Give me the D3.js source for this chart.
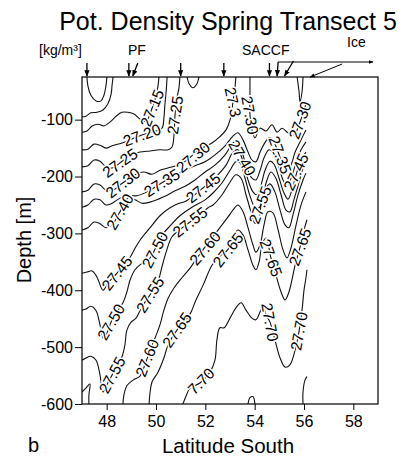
<!DOCTYPE html>
<html>
<head>
<meta charset="utf-8">
<script src="https://cdn.jsdelivr.net/npm/d3@7"></script>
<style>
  html, body { margin: 0; padding: 0; background: #fff; }
  svg { display: block; font-family: "Liberation Sans", Arial, Helvetica, sans-serif; }
</style>
</head>
<body>
<svg id="chart" width="405" height="464"></svg>
<script>
// ---- Axis ticks ----
const latTicks = [48, 50, 52, 54, 56, 58];
const depthTicks = [-100, -200, -300, -400, -500, -600];
const depthTickLabels = ["-100", "-200", "-300", "-400", "-500", "-600"];

// ---- Isopycnals: [latitude °S, depth m] ----
const iso2705 = [[47.20,-25],[47.24,-41],[47.36,-57],[47.57,-67],[47.77,-67],[47.89,-57],[47.97,-41],[48.01,-25]];
const iso2710 = [[47.00,-95],[47.16,-94],[47.36,-88],[47.61,-87],[47.85,-83],[48.05,-72],[48.18,-55],[48.22,-39],[48.26,-25]];
const iso2715 = [[47.00,-122],[47.20,-120],[47.41,-111],[47.65,-108],[47.89,-111],[48.14,-104],[48.38,-94],[48.62,-87],[48.86,-87],[49.11,-90],[49.35,-99],[49.59,-103],[49.84,-80],[50.00,-59],[50.08,-41],[50.12,-25]];
const iso2720 = [[47.00,-153],[47.24,-152],[47.49,-143],[47.73,-145],[47.97,-150],[48.22,-146],[48.62,-141],[49.03,-134],[49.43,-127],[49.84,-122],[50.24,-115],[50.32,-97],[50.36,-74],[50.41,-51],[50.45,-25]];
const iso2725 = [[47.00,-183],[47.24,-181],[47.49,-171],[47.73,-173],[47.97,-183],[48.22,-185],[48.54,-176],[48.82,-167],[49.07,-160],[49.35,-157],[49.76,-155],[50.16,-153],[50.49,-153],[50.65,-148],[50.73,-127],[50.77,-92],[50.85,-62],[50.93,-44],[50.97,-25]];
const iso2725b = [[51.26,-25],[51.34,-37],[51.50,-44],[51.66,-37],[51.74,-25]];
const iso2725c = [[55.72,-25],[55.80,-51],[55.84,-69],[55.92,-51],[55.96,-25]];
const iso2730 = [[47.00,-227],[47.24,-224],[47.49,-213],[47.73,-215],[47.97,-224],[48.22,-225],[48.66,-211],[49.19,-196],[49.51,-192],[49.84,-196],[50.16,-189],[50.49,-185],[50.81,-181],[51.26,-171],[51.62,-157],[51.95,-148],[52.27,-141],[52.59,-130],[52.84,-118],[53.00,-101],[53.12,-69],[53.20,-44],[53.24,-25]];
const iso2730b = [[53.81,-25],[53.81,-51],[53.81,-92],[53.89,-118],[54.01,-132],[54.22,-115],[54.46,-120],[54.70,-109],[54.91,-122],[55.11,-115],[55.35,-123],[55.59,-127],[55.84,-104],[56.00,-83],[56.08,-72]];
const iso2735 = [[47.00,-254],[47.24,-250],[47.49,-240],[47.73,-241],[47.97,-250],[48.22,-247],[48.54,-238],[48.86,-233],[49.19,-234],[49.64,-227],[50.24,-211],[50.81,-197],[51.18,-189],[51.58,-181],[51.99,-174],[52.39,-162],[52.80,-146],[53.12,-129],[53.32,-123],[53.53,-136],[53.73,-157],[53.89,-171],[54.05,-174],[54.22,-157],[54.38,-143],[54.58,-132],[54.74,-136],[54.95,-157],[55.15,-180],[55.31,-189],[55.47,-180],[55.64,-157],[55.84,-139],[56.00,-125],[56.08,-118]];
const iso2740 = [[47.00,-294],[47.24,-290],[47.49,-280],[47.73,-283],[47.97,-290],[48.22,-285],[48.54,-262],[48.86,-238],[49.15,-241],[49.43,-247],[49.76,-245],[50.08,-240],[50.41,-234],[50.77,-225],[51.18,-217],[51.58,-206],[51.99,-192],[52.39,-180],[52.80,-162],[53.12,-141],[53.32,-138],[53.49,-157],[53.69,-185],[53.89,-203],[54.05,-206],[54.22,-189],[54.38,-167],[54.58,-153],[54.74,-157],[54.95,-180],[55.15,-206],[55.31,-217],[55.47,-203],[55.68,-176],[55.88,-153],[56.08,-139]];
const iso2745 = [[47.00,-370],[47.20,-368],[47.41,-366],[47.61,-377],[47.85,-400],[48.05,-387],[48.42,-370],[48.66,-356],[48.95,-342],[49.15,-326],[49.35,-312],[49.76,-290],[50.16,-269],[50.57,-255],[50.89,-248],[51.22,-243],[51.91,-220],[52.19,-210],[52.51,-197],[52.84,-180],[53.12,-157],[53.32,-153],[53.53,-174],[53.73,-206],[53.93,-227],[54.09,-232],[54.26,-215],[54.42,-189],[54.62,-173],[54.78,-178],[54.99,-203],[55.19,-229],[55.35,-240],[55.51,-224],[55.68,-197],[55.88,-171],[56.08,-157]];
const iso2750 = [[47.00,-435],[47.16,-433],[47.36,-428],[47.57,-436],[47.73,-461],[47.85,-484],[47.97,-479],[48.18,-456],[48.42,-438],[48.66,-422],[48.82,-403],[48.95,-382],[49.15,-364],[49.39,-354],[49.68,-347],[49.84,-338],[50.08,-317],[50.28,-301],[50.57,-287],[50.97,-269],[51.46,-254],[51.99,-241],[52.31,-229],[52.68,-211],[53.00,-189],[53.24,-174],[53.41,-176],[53.61,-203],[53.81,-234],[54.01,-254],[54.18,-255],[54.34,-232],[54.50,-206],[54.66,-192],[54.86,-203],[55.07,-232],[55.27,-259],[55.43,-262],[55.59,-241],[55.80,-210],[55.96,-185],[56.08,-174]];
const iso2755 = [[47.00,-523],[47.16,-519],[47.36,-516],[47.57,-523],[47.73,-549],[47.85,-579],[48.01,-566],[48.22,-549],[48.42,-533],[48.62,-517],[48.74,-496],[48.82,-470],[48.99,-456],[49.19,-449],[49.43,-429],[49.76,-408],[50.08,-385],[50.24,-359],[50.41,-333],[50.65,-306],[51.01,-292],[51.38,-280],[51.74,-268],[52.11,-255],[52.31,-250],[52.68,-232],[53.00,-210],[53.24,-197],[53.45,-203],[53.65,-232],[53.85,-262],[54.01,-282],[54.14,-280],[54.26,-250],[54.42,-224],[54.62,-213],[54.82,-227],[55.03,-259],[55.23,-285],[55.39,-290],[55.55,-268],[55.76,-232],[55.96,-206],[56.08,-194]];
const iso2760 = [[48.66,-600],[48.70,-584],[48.82,-568],[49.07,-558],[49.35,-551],[49.55,-531],[49.76,-505],[49.96,-484],[50.16,-461],[50.32,-435],[50.49,-414],[50.73,-396],[51.05,-378],[51.38,-361],[51.70,-341],[51.99,-324],[52.27,-308],[52.59,-290],[52.92,-271],[53.12,-259],[53.32,-250],[53.53,-262],[53.73,-290],[53.93,-320],[54.05,-333],[54.22,-320],[54.38,-285],[54.54,-262],[54.74,-264],[54.95,-294],[55.15,-329],[55.31,-343],[55.47,-326],[55.68,-285],[55.88,-250],[56.08,-227]];
const iso2760b = [[47.00,-579],[47.16,-572],[47.32,-565],[47.28,-584],[47.28,-600]];
const iso2765 = [[49.72,-600],[49.76,-579],[49.84,-561],[50.08,-544],[50.32,-519],[50.49,-496],[50.85,-470],[51.38,-442],[51.62,-417],[51.91,-391],[52.27,-356],[52.59,-340],[52.92,-328],[53.12,-308],[53.32,-294],[53.53,-303],[53.73,-329],[53.93,-356],[54.05,-364],[54.18,-350],[54.30,-320],[54.46,-308],[54.66,-343],[54.86,-373],[55.07,-403],[55.23,-417],[55.39,-403],[55.64,-356],[55.84,-324],[56.00,-294],[56.12,-276]];
const iso2770 = [[51.09,-600],[51.22,-586],[51.38,-572],[51.78,-563],[52.19,-544],[52.39,-523],[52.47,-487],[52.59,-466],[52.76,-466],[53.00,-449],[53.24,-431],[53.45,-422],[53.65,-435],[53.89,-449],[54.05,-452],[54.22,-438],[54.34,-428],[54.46,-443],[54.62,-456],[54.82,-487],[55.03,-519],[55.23,-535],[55.43,-531],[55.64,-505],[55.80,-472],[55.92,-435],[56.00,-400],[56.08,-378],[56.12,-364]];
const iso2775 = [[53.73,-600],[53.81,-589],[53.93,-587],[54.01,-600]];
const iso2775b = [[55.96,-600],[55.96,-579],[56.04,-558],[56.12,-552]];

// ---- Contour labels: text, latitude, depth ----
const labelText  = ["27.15","27.25","27.20","27.25","27.30","27.35","27.30","27.45","27.40","27.55","27.50","27.60","27.65","27.45","27.55","27.50","27.65","27.60","27.55","7.70","27.3","27.30","27.30","27.40","27.35","27.45","27.55","27.65","27.65","27.70","27.70"];
const labelLat   = [49.84,50.77,49.43,48.54,48.66,50.24,51.50,51.91,48.54,51.38,49.96,51.99,52.92,48.42,49.76,48.18,50.85,49.64,48.22,51.83,53.12,53.81,55.84,53.49,55.03,55.68,54.22,54.66,55.84,54.62,55.80];
const labelDepth = [-80,-92,-127,-176,-211,-211,-166,-220,-262,-280,-329,-326,-329,-370,-408,-456,-470,-519,-549,-560,-69,-92,-101,-167,-162,-192,-250,-343,-324,-456,-472];
const labelAngle = [-68,-82,-20,-35,-38,-32,-40,-38,-60,-38,-62,-50,-52,-52,-58,-60,-55,-68,-62,-45,78,80,-70,60,70,-65,-70,70,-70,80,-80];

// ---- Markers above the section ----
const frontLats = [47.2, 48.9, 51.0, 52.75, 54.6];
const slantLats = [49.1];
const saccfLat = 55.25;
const iceStemLat = 54.95;
const iceEdgeLat = 56.25;
const iceArrowEnd = 59.0;

// ---- Layout ----
const svg = d3.select("#chart");
const x = d3.scaleLinear().domain([47, 59]).range([82, 378]);
const y = d3.scaleLinear().domain([-600, -25]).range([404, 77]);

const defs = svg.append("defs");
defs.append("clipPath").attr("id", "plotClip")
  .append("rect").attr("x", 82).attr("y", 77).attr("width", 296).attr("height", 327);
defs.append("marker").attr("id", "head")
  .attr("viewBox", "0 0 10 10").attr("refX", 9).attr("refY", 5)
  .attr("markerWidth", 5).attr("markerHeight", 5).attr("orient", "auto")
  .append("path").attr("d", "M0,1 L10,5 L0,9 Z").attr("fill", "#000");

// contour lines
const isolines = [iso2705, iso2710, iso2715, iso2720, iso2725, iso2725b, iso2725c, iso2730, iso2730b,
  iso2735, iso2740, iso2745, iso2750, iso2755, iso2760, iso2760b, iso2765, iso2770, iso2775, iso2775b];
const line = d3.line().x(d => x(d[0])).y(d => y(d[1])).curve(d3.curveCatmullRom.alpha(0.5));

const plot = svg.append("g").attr("clip-path", "url(#plotClip)");
plot.selectAll("path.iso").data(isolines).join("path")
  .attr("class", "iso").attr("d", line)
  .attr("fill", "none").attr("stroke", "#111").attr("stroke-width", 1.1);

// labels with a white halo that breaks the line underneath
plot.selectAll("text.lab").data(labelText).join("text")
  .attr("class", "lab")
  .attr("transform", (d, i) => `translate(${x(labelLat[i])},${y(labelDepth[i])}) rotate(${labelAngle[i]})`)
  .attr("text-anchor", "middle").attr("dy", "0.35em")
  .attr("font-size", 15.5)
  .attr("fill", "#000").attr("stroke", "#fff").attr("stroke-width", 3)
  .attr("paint-order", "stroke")
  .text(d => d);

// frame
svg.append("rect").attr("x", 82).attr("y", 77).attr("width", 296).attr("height", 327)
  .attr("fill", "none").attr("stroke", "#000").attr("stroke-width", 1.2);

// axes
const yAxis = d3.axisLeft(y).tickValues(depthTicks).tickSize(7).tickPadding(2)
  .tickFormat((d, i) => depthTickLabels[i]);
const gy = svg.append("g").attr("transform", "translate(82,0)").call(yAxis);
gy.select(".domain").remove();
gy.selectAll("text").attr("font-size", 16).attr("font-family", "Liberation Sans, Arial, sans-serif").attr("fill", "#000");

const xAxis = d3.axisBottom(x).tickValues(latTicks).tickSize(6).tickPadding(6).tickFormat(d3.format("d"));
const gx = svg.append("g").attr("transform", "translate(0,404)").call(xAxis);
gx.select(".domain").remove();
gx.selectAll("text").attr("font-size", 16).attr("font-family", "Liberation Sans, Arial, sans-serif").attr("fill", "#000");

// titles
svg.append("text").attr("x", 228).attr("y", 30).attr("text-anchor", "middle")
  .attr("font-size", 25).text("Pot. Density Spring Transect 5");
svg.append("text").attr("x", 228).attr("y", 453).attr("text-anchor", "middle")
  .attr("font-size", 20.5).text("Latitude South");
svg.append("text").attr("transform", "translate(31,240) rotate(-90)").attr("text-anchor", "middle")
  .attr("font-size", 20).text("Depth [m]");
svg.append("text").attr("x", 28).attr("y", 452).attr("font-size", 20).text("b");

// header annotations
svg.append("text").attr("x", 39).attr("y", 55).attr("font-size", 14).text("[kg/m³]");
svg.append("text").attr("x", 128).attr("y", 55).attr("font-size", 14).text("PF");
svg.append("text").attr("x", 242).attr("y", 55).attr("font-size", 14).text("SACCF");
svg.append("text").attr("x", 347).attr("y", 47).attr("font-size", 14).text("Ice");

const arrows = svg.append("g").attr("stroke", "#000").attr("stroke-width", 1.3).attr("fill", "none");
frontLats.forEach(lat => {
  arrows.append("line").attr("x1", x(lat)).attr("y1", 63).attr("x2", x(lat)).attr("y2", 76)
    .attr("marker-end", "url(#head)");
});
slantLats.forEach(lat => {
  arrows.append("line").attr("x1", x(lat) + 4).attr("y1", 63).attr("x2", x(lat) - 1).attr("y2", 76)
    .attr("marker-end", "url(#head)");
});
arrows.append("line").attr("x1", x(saccfLat) + 8).attr("y1", 61).attr("x2", x(saccfLat) - 1).attr("y2", 76)
  .attr("marker-end", "url(#head)");
// ice coverage arrow
arrows.append("line").attr("x1", x(iceStemLat)).attr("y1", 62).attr("x2", x(iceStemLat) - 1).attr("y2", 76)
  .attr("marker-end", "url(#head)");
arrows.append("line").attr("x1", x(iceStemLat)).attr("y1", 62).attr("x2", x(iceArrowEnd) - 5).attr("y2", 62)
  .attr("stroke-width", 1).attr("marker-end", "url(#head)");
arrows.append("line").attr("x1", x(iceEdgeLat) + 32).attr("y1", 64).attr("x2", x(iceEdgeLat)).attr("y2", 77)
  .attr("stroke-width", 1).attr("marker-end", "url(#head)");
</script>
</body>
</html>
